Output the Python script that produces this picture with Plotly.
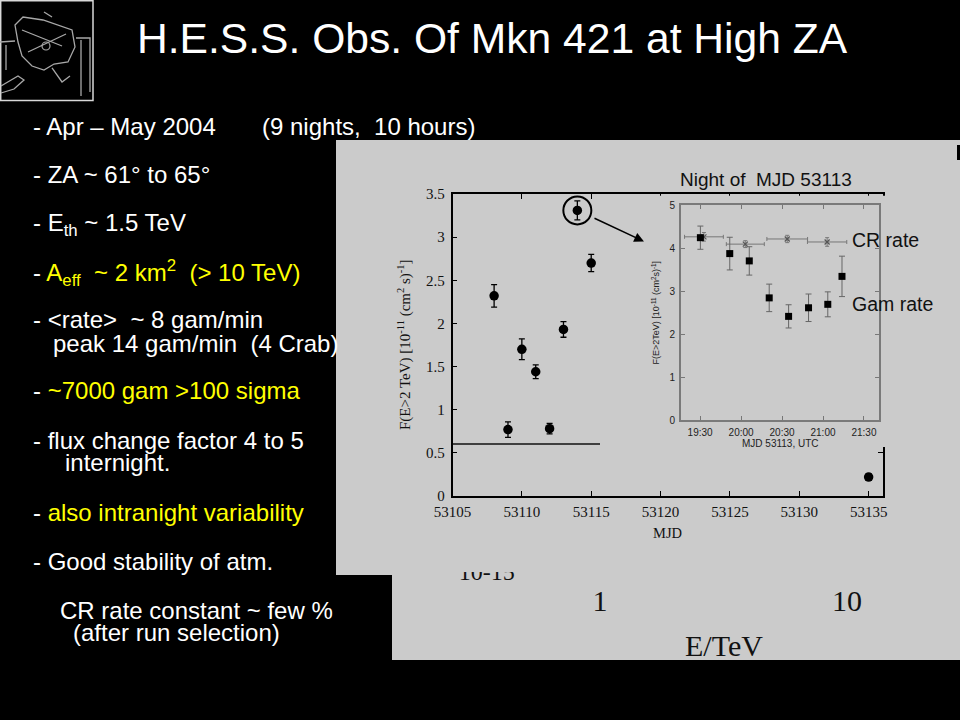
import plotly.graph_objects as go

W, H = 960, 720
def px(x): return x / W
def py(y): return 1 - y / H

SANS = "Liberation Sans, Arial, sans-serif"
SERIF = "Liberation Serif, Times New Roman, serif"
GRAY = "#cbcbcb"
YEL = "#ffff00"

# ---------------- data ----------------
MJD = [53108, 53109, 53110, 53111, 53112, 53113, 53114, 53115, 53135]
FLUX = [2.32, 0.77, 1.70, 1.44, 0.78, 1.93, 3.31, 2.70, 0.22]
FLUX_ERR = [0.13, 0.09, 0.12, 0.08, 0.06, 0.09, 0.11, 0.10, 0.04]

# night of MJD 53113 (minutes after 00:00 UTC)
GAM_MIN = [1170.2, 1191.7, 1206.0, 1220.6, 1234.8, 1249.4, 1263.5, 1273.9]
GAM_FLUX = [4.24, 3.87, 3.70, 2.84, 2.41, 2.61, 2.69, 3.34]
GAM_ERR = [0.27, 0.38, 0.33, 0.32, 0.27, 0.32, 0.29, 0.47]

CR_MIN = [1172.8, 1203.1, 1233.8, 1263.0]
CR_HALF = [14.2, 13.9, 14.9, 14.4]
CR_LEVEL = [4.26, 4.09, 4.21, 4.14]
CR_ERR = [0.10, 0.08, 0.085, 0.10]

INSET_TICK_MIN = [1170, 1200, 1230, 1260, 1290]
INSET_TICK_TEXT = ["19:30", "20:00", "20:30", "21:00", "21:30"]

SPEC_TICKS = [1, 10]
SPEC_TICK_TEXT = ["1", "10"]
SPEC_YLABEL = ["10-15"]

HIGHLIGHT_MJD, HIGHLIGHT_FLUX = 53114, 3.31

fig = go.Figure()

# cover panel (hides part of main frame behind the inset)
fig.add_trace(go.Scatter(x=[0, 1, 1, 0, 0], y=[0, 0, 1, 1, 0], fill="toself",
                         fillcolor=GRAY, mode="lines", line=dict(width=0),
                         xaxis="x2", yaxis="y2", hoverinfo="skip", showlegend=False))

# main light curve
fig.add_trace(go.Scatter(
    x=MJD, y=FLUX, mode="markers",
    marker=dict(symbol="circle", size=9.5, color="black"),
    error_y=dict(type="data", array=FLUX_ERR, color="black", thickness=1.3, width=3),
    xaxis="x", yaxis="y", showlegend=False, hoverinfo="skip"))

# inset: CR rate
fig.add_trace(go.Scatter(
    x=CR_MIN, y=CR_LEVEL, mode="markers",
    marker=dict(symbol="x-thin", size=5, line=dict(color="#555", width=1.2)),
    error_x=dict(type="data", array=CR_HALF, color="#777", thickness=1, width=2),
    error_y=dict(type="data", array=CR_ERR, color="#777", thickness=1, width=2),
    xaxis="x3", yaxis="y3", showlegend=False, hoverinfo="skip"))

# inset: gamma rate
fig.add_trace(go.Scatter(
    x=GAM_MIN, y=GAM_FLUX, mode="markers",
    marker=dict(symbol="square", size=7, color="black"),
    error_y=dict(type="data", array=GAM_ERR, color="#666", thickness=1, width=3),
    xaxis="x3", yaxis="y3", showlegend=False, hoverinfo="skip"))

# clipped spectrum label
fig.add_trace(go.Scatter(
    x=[10 ** -0.4587], y=[0.982], mode="text", text=SPEC_YLABEL,
    textfont=dict(family=SERIF, size=24, color="#111"), textposition="middle center",
    cliponaxis=True, xaxis="x4", yaxis="y4", showlegend=False, hoverinfo="skip"))

main_ax = dict(showline=True, linecolor="black", linewidth=1.5, mirror="ticks",
               ticks="inside", ticklen=5, tickwidth=1.2, tickcolor="black",
               showgrid=False, zeroline=False, automargin=False,
               tickfont=dict(family=SERIF, size=15, color="#111"))
inset_ax = dict(showline=True, linecolor="#7a7a7a", linewidth=2, mirror="ticks",
                ticks="inside", ticklen=4, tickwidth=1, tickcolor="#777",
                showgrid=False, zeroline=False, automargin=False,
                tickfont=dict(family=SANS, size=10, color="#222"))

fig.update_layout(
    width=W, height=H, margin=dict(l=0, r=0, t=0, b=0, pad=0, autoexpand=False),
    paper_bgcolor="black", plot_bgcolor="rgba(0,0,0,0)",
    xaxis=dict(domain=[px(452.5), px(882.5)], range=[53105, 53136], anchor="y",
               tick0=53105, dtick=5, tickformat="d", ticklabelstandoff=1, **main_ax),
    yaxis=dict(domain=[py(496), py(194)], range=[0, 3.5], anchor="x",
               tick0=0, dtick=0.5, ticklabelstandoff=3, **main_ax),
    xaxis2=dict(domain=[px(612), px(892)], range=[0, 1], visible=False, anchor="y2"),
    yaxis2=dict(domain=[py(447), py(195.5)], range=[0, 1], visible=False, anchor="x2"),
    xaxis3=dict(domain=[px(681), px(879)], range=[1156, 1301], anchor="y3",
                tickvals=INSET_TICK_MIN, ticktext=INSET_TICK_TEXT, ticklabelstandoff=2, **inset_ax),
    yaxis3=dict(domain=[py(420), py(205)], range=[0, 5], anchor="x3",
                tick0=0, dtick=1, ticklabelstandoff=2, **inset_ax),
    xaxis4=dict(type="log", domain=[px(392), 1], range=[-0.8421, 1.4575],
                anchor="free", position=py(580), tickvals=SPEC_TICKS, ticktext=SPEC_TICK_TEXT,
                ticks="", showline=False, showgrid=False, zeroline=False, automargin=False,
                tickfont=dict(family=SERIF, size=30, color="#111")),
    yaxis4=dict(domain=[py(660), py(572)], range=[0, 1], visible=False, anchor="x4"),
)

shapes = []
# gray image panels
shapes.append(dict(type="rect", xref="paper", yref="paper", x0=px(336), x1=px(960),
                   y0=py(575), y1=py(140), fillcolor=GRAY, line=dict(width=0), layer="below"))
shapes.append(dict(type="rect", xref="paper", yref="paper", x0=px(392), x1=px(960),
                   y0=py(660), y1=py(575), fillcolor=GRAY, line=dict(width=0), layer="below"))
# small black mark at right edge
shapes.append(dict(type="rect", xref="paper", yref="paper", x0=px(957), x1=px(960),
                   y0=py(160), y1=py(145), fillcolor="black", line=dict(width=0), layer="below"))
# stray horizontal line in the pasted figure
shapes.append(dict(type="line", xref="paper", yref="paper", x0=px(453), x1=px(600),
                   y0=py(444), y1=py(444), line=dict(color="#111", width=1.3)))
# circle around highlighted night
shapes.append(dict(type="circle", xref="x", yref="y", xsizemode="pixel", ysizemode="pixel",
                   xanchor=HIGHLIGHT_MJD, yanchor=HIGHLIGHT_FLUX, x0=-14, x1=14, y0=-14, y1=14,
                   line=dict(color="black", width=2)))

# logo (telescope sketch)
def path(pts, close=False):
    s = "M " + " L ".join(f"{px(x):.5f},{py(y):.5f}" for x, y in pts)
    return s + (" Z" if close else "")

shapes.append(dict(type="rect", xref="paper", yref="paper", x0=px(0.7), x1=px(93),
                   y0=py(100.5), y1=py(0.7), line=dict(color="#d8d8d8", width=1.5),
                   fillcolor="black", layer="below"))
logo_paths = [
    ([(15, 25), (23, 17), (43, 20), (72, 30), (75, 47), (68, 62), (54, 64), (44, 70),
      (32, 66), (22, 56), (18, 42)], True),
    ([(22, 30), (62, 46)], False),
    ([(28, 52), (66, 34)], False),
    ([(44, 12), (52, 17)], False),
    ([(0, 42), (15, 41)], False),
    ([(76, 38), (90, 38), (90, 92)], False),
    ([(81, 40), (81, 96)], False),
    ([(1, 86), (18, 76), (24, 80), (14, 89), (1, 93)], False),
    ([(52, 68), (62, 82), (70, 76)], False),
    ([(6, 45), (6, 70)], False),
]
for pts, cl in logo_paths:
    shapes.append(dict(type="path", xref="paper", yref="paper", path=path(pts, cl),
                       line=dict(color="#a8a8a8", width=1.3), layer="below"))
shapes.append(dict(type="circle", xref="paper", yref="paper", x0=px(42), x1=px(50),
                   y0=py(50), y1=py(42), line=dict(color="#a8a8a8", width=1.2), layer="below"))
fig.update_layout(shapes=shapes)

anns = []
def ann(text, x, y, size, color="white", family=SANS, xanchor="left", angle=0):
    anns.append(dict(text=text, x=px(x), y=py(y), xref="paper", yref="paper",
                     xanchor=xanchor, yanchor="middle", showarrow=False, textangle=angle,
                     font=dict(family=family, size=size, color=color)))

NB = "\u00a0"
ann("H.E.S.S. Obs. Of Mkn 421 at High ZA", 492.5, 38, 42.6, xanchor="center")

def y_(s):
    return f"<span style='color:{YEL}'>{s}</span>"

ann("- Apr – May 2004", 31, 126, 24)
ann(f"(9 nights,{NB}{NB}10 hours)", 260, 126, 24)
ann("- ZA ~ 61° to 65°", 31, 174, 24)
ann("- E<sub>th</sub> ~ 1.5 TeV", 31, 224, 24)
ann("- " + y_(f"A<sub>eff</sub>{NB}{NB}~ 2 km<sup>2</sup>{NB}{NB}(> 10 TeV)"), 31, 273, 24)
ann(f"- &lt;rate&gt;{NB}{NB}~ 8 gam/min", 31, 319, 24)
ann(f"peak 14 gam/min{NB}{NB}(4 Crab)", 51, 343, 24)
ann("- " + y_("~7000 gam >100 sigma"), 31, 391, 24)
ann("- flux change factor 4 to 5", 31, 440, 24)
ann("internight.", 63, 462, 24)
ann("- " + y_("also intranight variability"), 31, 512, 24)
ann("- Good stability of atm.", 31, 561, 24)
ann("CR rate constant ~ few %", 58, 610, 24)
ann("(after run selection)", 71, 632, 24)

# main axis titles
ann("F(E>2 TeV) [10<sup>-11</sup> (cm<sup>2</sup> s)<sup>-1</sup>]", 404, 345, 15,
    color="#111", family=SERIF, xanchor="center", angle=-90)
ann("MJD", 667.5, 533, 14.5, color="#111", family=SERIF, xanchor="center")
# inset titles
ann("F(E>2TeV) [10<sup>-11</sup> (cm<sup>2</sup>s)<sup>-1</sup>]", 655, 312.5, 9,
    color="#222", xanchor="center", angle=-90)
ann("MJD 53113, UTC", 780, 443, 10, color="#222", xanchor="center")
ann("Night of  MJD 53113", 765.8, 179, 19, color="#111", xanchor="center")
ann("CR rate", 850, 239.5, 19.5, color="#111")
ann("Gam rate", 850, 304, 19.5, color="#111")
ann("E/TeV", 724, 645, 30, color="#111", family=SERIF, xanchor="center")

# arrow from circle to inset
anns.append(dict(text="", x=px(644), y=py(241.5), xref="paper", yref="paper",
                 ax=-51, ay=-24, showarrow=True, arrowhead=2, arrowsize=1.3,
                 arrowwidth=1.5, arrowcolor="black"))
fig.update_layout(annotations=anns)

fig.write_html("out.html", config={"responsive": False, "displayModeBar": False},
               post_script="document.body.style.margin='0';document.body.style.overflow='hidden';")
